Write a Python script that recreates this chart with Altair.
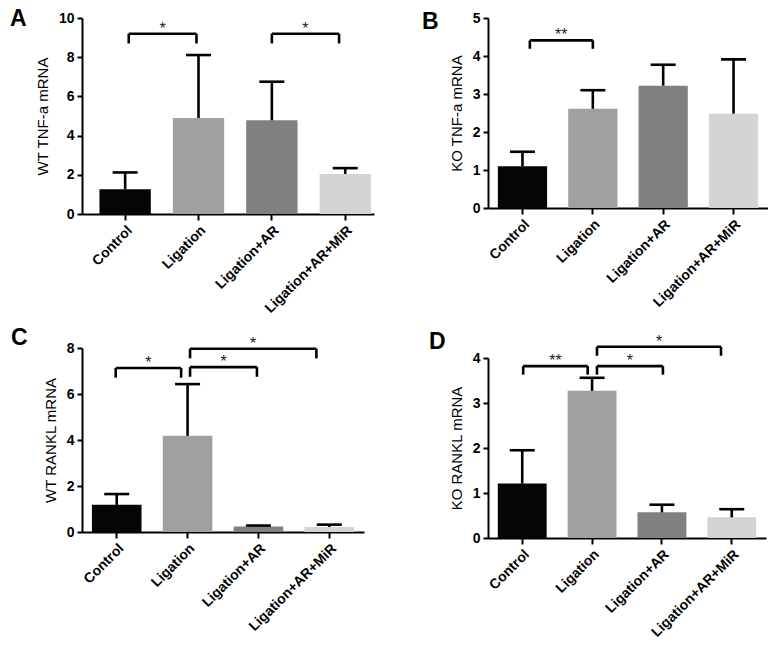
import altair as alt
import pandas as pd

groups = ["Control", "Ligation", "Ligation+AR", "Ligation+AR+MiR"]
bar_colors = ["#050505", "#a0a0a0", "#808080", "#d4d4d4"]

# Panel A: WT TNF-a mRNA
a_mean = [1.26, 4.90, 4.78, 2.04]
a_upper = [2.12, 8.11, 6.75, 2.34]
a_ticks = [0, 2, 4, 6, 8, 10]
# (from, to, bracket level, tick end, label)
a_brackets = [("Control", "Ligation", 9.2, 8.7, "*"),
              ("Ligation+AR", "Ligation+AR+MiR", 9.2, 8.7, "*")]

# Panel B: KO TNF-a mRNA
b_mean = [1.10, 2.61, 3.22, 2.48]
b_upper = [1.48, 3.10, 3.77, 3.91]
b_ticks = [0, 1, 2, 3, 4, 5]
b_brackets = [("Control", "Ligation", 4.41, 4.19, "**")]

# Panel C: WT RANKL mRNA
c_mean = [1.18, 4.18, 0.24, 0.22]
c_upper = [1.65, 6.43, 0.28, 0.32]
c_ticks = [0, 2, 4, 6, 8]
c_brackets = [("Control", "Ligation", 7.13, 6.71, "*"),
              ("Ligation", "Ligation+AR", 7.17, 6.75, "*"),
              ("Ligation", "Ligation+AR+MiR", 7.97, 7.55, "*")]

# Panel D: KO RANKL mRNA
d_mean = [1.21, 3.27, 0.57, 0.46]
d_upper = [1.95, 3.56, 0.74, 0.64]
d_ticks = [0, 1, 2, 3, 4]
d_brackets = [("Control", "Ligation", 3.82, 3.63, "**"),
              ("Ligation", "Ligation+AR", 3.82, 3.63, "*"),
              ("Ligation", "Ligation+AR+MiR", 4.25, 4.05, "*")]

# bracket end insets (band positions), styling only
a_bp = [(0.57, 0.46), (0.5, 0.38)]
b_bp = [(0.65, 0.5)]
c_bp = [(0.48, 0.37), (0.55, 0.47), (0.55, 0.24)]
d_bp = [(0.52, 0.41), (0.6, 0.52), (0.6, 0.28)]

FONT = "Liberation Sans"
PI = 0.3


def panel(letter, ytitle, mean, upper, ticks, brackets, bps, w, h,
          letter_dx, letter_dy, po=0.14, align=0.5, range_top=0):
    df = pd.DataFrame({"group": groups, "mean": mean, "upper": upper})
    xs = alt.Scale(domain=groups, paddingInner=PI, paddingOuter=po, align=align)
    step = w / (len(groups) - PI + 2 * po)
    bw = step * (1 - PI)
    if range_top:
        ys = alt.Scale(domain=[ticks[0], ticks[-1]], nice=False, range=[h, range_top])
    else:
        ys = alt.Scale(domain=[ticks[0], ticks[-1]], nice=False)

    xaxis = alt.Axis(title=None, labelAngle=-45, labelPadding=3)
    yaxis = alt.Axis(values=ticks, title=ytitle, grid=False, labelPadding=3,
                     titlePadding=8, labelFlush=False, labelOverlap=False)

    def X(field, **kw):
        return alt.X(field, scale=xs, sort=groups, axis=xaxis, **kw)

    def Y(field):
        return alt.Y(field, scale=ys, axis=yaxis)

    bars = alt.Chart(df).mark_bar().encode(
        x=X("group:N"), y=Y("mean:Q"),
        color=alt.Color("group:N", scale=alt.Scale(domain=groups, range=bar_colors),
                        legend=None),
    )
    err_line = alt.Chart(df).mark_rule(color="black", strokeWidth=2.6).encode(
        x=X("group:N"), y=Y("mean:Q"), y2="upper:Q",
    )
    err_cap = alt.Chart(df).mark_tick(color="black", size=25, thickness=2.6,
                                      orient="horizontal", opacity=1).encode(
        x=X("group:N"), y=Y("upper:Q"),
    )
    layers = [bars, err_line, err_cap]
    for (g1, g2, lev, lo, lab), (bp1, bp2) in zip(brackets, bps):
        bdf = pd.DataFrame({"g1": [g1], "g2": [g2], "y": [lev], "y0": [lo], "lab": [lab]})
        k = groups.index(g2) - groups.index(g1)
        star_dx = (bw * (bp2 - bp1) + k * step) / 2.0
        layers.append(alt.Chart(bdf).mark_rule(color="black", strokeWidth=2.6).encode(
            x=X("g1:N", bandPosition=bp1),
            x2=alt.X2("g2:N", bandPosition=bp2),
            y=Y("y:Q")))
        layers.append(alt.Chart(bdf).mark_rule(color="black", strokeWidth=2.6).encode(
            x=X("g1:N", bandPosition=bp1), y=Y("y:Q"), y2="y0:Q"))
        layers.append(alt.Chart(bdf).mark_rule(color="black", strokeWidth=2.6).encode(
            x=X("g2:N", bandPosition=bp2), y=Y("y:Q"), y2="y0:Q"))
        layers.append(alt.Chart(bdf).mark_text(baseline="bottom", fontSize=16, dy=3,
                                               dx=star_dx, font=FONT, color="#222").encode(
            x=X("g1:N", bandPosition=bp1), y=Y("y:Q"), text="lab:N"))
    ldf = pd.DataFrame({"t": [letter]})
    layers.append(alt.Chart(ldf).mark_text(align="left", baseline="top", fontSize=23,
                                           fontWeight="bold", font=FONT, color="black").encode(
        x=alt.value(letter_dx), y=alt.value(letter_dy), text="t:N"))
    return alt.layer(*layers).properties(width=w, height=h)


pA = panel("A", "WT TNF-a mRNA", a_mean, a_upper, a_ticks, a_brackets, a_bp,
           292, 196, -72, -10, po=0.14, align=0.85)
pB = panel("B", "KO TNF-a mRNA", b_mean, b_upper, b_ticks, b_brackets, b_bp,
           280, 190, -66, -7, po=0.14, align=0.5)
pC = panel("C", "WT RANKL mRNA", c_mean, c_upper, c_ticks, c_brackets, c_bp,
           282, 184, -71, -21, po=0.14, align=0.5)
pD = panel("D", "KO RANKL mRNA", d_mean, d_upper, d_ticks, d_brackets, d_bp,
           278, 190, -59, -17, po=0.14, align=0.5, range_top=10)

row1 = alt.hconcat(pA, pB, spacing=48)
row2 = alt.hconcat(pC, pD, spacing=65)
chart = alt.vconcat(row1, row2, spacing=11).properties(
    padding={"left": 2, "top": 0, "right": 0, "bottom": 0}
).configure(
    font=FONT
).configure_view(stroke=None).configure_axis(
    labelFont=FONT, titleFont=FONT, labelFontSize=14, labelFontWeight="bold",
    labelColor="black", titleFontSize=15, titleFontWeight="normal",
    titleColor="black", tickSize=5, tickWidth=2, tickColor="black",
    domainWidth=2, domainColor="black",
).configure_axisX(tickSize=6)

chart.save("out.html", embed_options={"renderer": "svg", "actions": False})
